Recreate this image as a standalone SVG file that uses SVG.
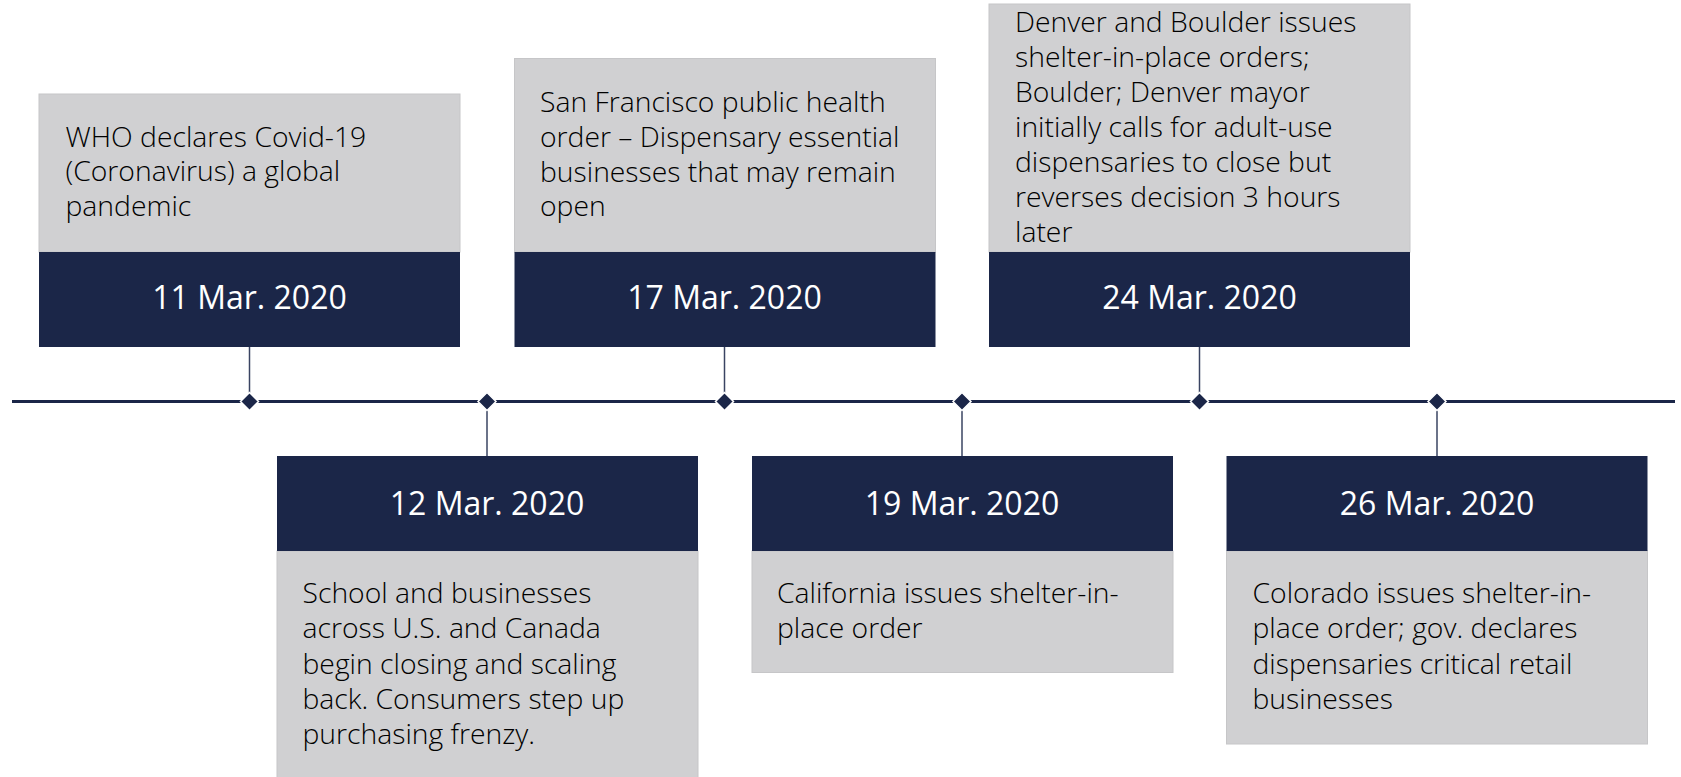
<svg xmlns="http://www.w3.org/2000/svg" width="1681" height="777" viewBox="0 0 1681 777">
<style>
.body{fill:#d0d0d2;stroke:#c6c6c8;stroke-width:1}
.head{fill:#1b2648}
.t{font-family:"Open Sans","Liberation Sans",sans-serif;font-weight:300;font-size:28.3px;fill:#000}
.d{font-family:"Open Sans","Liberation Sans",sans-serif;font-weight:400;font-size:32px;fill:#fff;text-anchor:middle}
.stem{stroke:#3a4462;stroke-width:1.5}
.axis{stroke:#1b2648;stroke-width:3}
.dia{fill:#1b2648;stroke:#fff;stroke-width:1.5}
</style>
<rect width="1681" height="777" fill="#fff"/>
<g id="connectors">
<line class="axis" x1="12" y1="401.5" x2="1675" y2="401.5"/>
<line class="stem" x1="249.5" y1="347" x2="249.5" y2="401.5"/>
<line class="stem" x1="487" y1="401.5" x2="487" y2="456"/>
<line class="stem" x1="724.5" y1="347" x2="724.5" y2="401.5"/>
<line class="stem" x1="962" y1="401.5" x2="962" y2="456"/>
<line class="stem" x1="1199.5" y1="347" x2="1199.5" y2="401.5"/>
<line class="stem" x1="1437" y1="401.5" x2="1437" y2="456"/>
<path class="dia" d="M249.5 392.5l9 9-9 9-9-9z"/>
<path class="dia" d="M487 392.5l9 9-9 9-9-9z"/>
<path class="dia" d="M724.5 392.5l9 9-9 9-9-9z"/>
<path class="dia" d="M962 392.5l9 9-9 9-9-9z"/>
<path class="dia" d="M1199.5 392.5l9 9-9 9-9-9z"/>
<path class="dia" d="M1437 392.5l9 9-9 9-9-9z"/>
</g>
<g id="n1">
<rect class="body" x="39" y="94" width="421" height="158"/>
<rect class="head" x="39" y="252" width="421" height="95"/>
<text class="t" x="65.5"><tspan x="65.5" y="146.7">WHO declares Covid-19</tspan><tspan x="65.5" y="181.3">(Coronavirus) a global</tspan><tspan x="65.5" y="216.3">pandemic</tspan></text>
<text class="d" x="249.5" y="309">11 Mar. 2020</text>
</g>
<g id="n2">
<rect class="body" x="277" y="551" width="421" height="240"/>
<rect class="head" x="277" y="456" width="421" height="95"/>
<text class="d" x="487" y="515">12 Mar. 2020</text>
<text class="t"><tspan x="302.5" y="602.7">School and businesses</tspan><tspan x="302.5" y="638">across U.S. and Canada</tspan><tspan x="302.5" y="673.5">begin closing and scaling</tspan><tspan x="302.5" y="708.7">back. Consumers step up</tspan><tspan x="302.5" y="744">purchasing frenzy.</tspan></text>
</g>
<g id="n3">
<rect class="body" x="514.5" y="58.5" width="421" height="193.5"/>
<rect class="head" x="514.5" y="252" width="421" height="95"/>
<text class="t"><tspan x="540" y="111.7">San Francisco public health</tspan><tspan x="540" y="146.7">order – Dispensary essential</tspan><tspan x="540" y="181.7">businesses that may remain</tspan><tspan x="540" y="216">open</tspan></text>
<text class="d" x="724.5" y="309">17 Mar. 2020</text>
</g>
<g id="n4">
<rect class="body" x="752" y="551" width="421" height="121.5"/>
<rect class="head" x="752" y="456" width="421" height="95"/>
<text class="d" x="962" y="515">19 Mar. 2020</text>
<text class="t"><tspan x="777" y="602.5">California issues shelter-in-</tspan><tspan x="777" y="638">place order</tspan></text>
</g>
<g id="n5">
<rect class="body" x="989" y="4" width="421" height="248"/>
<rect class="head" x="989" y="252" width="421" height="95"/>
<text class="t"><tspan x="1015" y="31.7">Denver and Boulder issues</tspan><tspan x="1015" y="66.7">shelter-in-place orders;</tspan><tspan x="1015" y="101.7">Boulder; Denver mayor</tspan><tspan x="1015" y="136.7">initially calls for adult-use</tspan><tspan x="1015" y="171.7">dispensaries to close but</tspan><tspan x="1015" y="206.7">reverses decision 3 hours</tspan><tspan x="1015" y="241.7">later</tspan></text>
<text class="d" x="1199.5" y="309">24 Mar. 2020</text>
</g>
<g id="n6">
<rect class="body" x="1226.5" y="551" width="421" height="193"/>
<rect class="head" x="1226.5" y="456" width="421" height="95"/>
<text class="d" x="1437" y="515">26 Mar. 2020</text>
<text class="t"><tspan x="1252.5" y="602.7">Colorado issues shelter-in-</tspan><tspan x="1252.5" y="638">place order; gov. declares</tspan><tspan x="1252.5" y="673.5">dispensaries critical retail</tspan><tspan x="1252.5" y="708.7">businesses</tspan></text>
</g>
</svg>
